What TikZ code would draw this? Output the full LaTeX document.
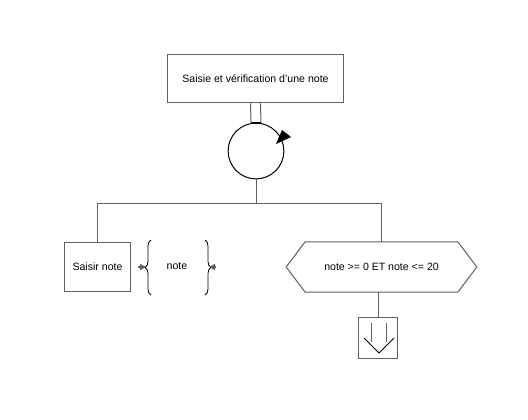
\documentclass[tikz,border=0pt]{standalone}
\usepackage{fontspec}
\setmainfont{Liberation Sans}
\usetikzlibrary{arrows.meta,decorations.pathreplacing}
\definecolor{edge}{HTML}{606060}
\tikzset{label/.style={font=\fontsize{10.6}{12}\selectfont}}
\tikzset{box/.style={draw=edge, line width=1bp, fill=white, inner sep=0pt, label}}
\tikzset{link/.style={draw=edge, line width=1bp}}
\tikzset{flow/.style={-{Triangle[length=6bp,width=6bp]}, draw=edge, fill=edge, line width=2bp}}
\tikzset{curly/.style={decorate, decoration={brace, amplitude=6bp, aspect=0.5}, draw=black, line width=0.8bp}}

\begin{document}
\begin{tikzpicture}[x=1bp, y=1bp]
      \useasboundingbox[fill=white] (0, 0) rectangle (528, 419);

      \node[box, minimum width=177, minimum height=49] (task) at (255.5, 340.5) {Saisie et vérification d'une note};
      \node[draw=black, line width=1bp, circle, minimum size=56, inner sep=0pt] (loop) at (256, 268) {};
      \coordinate (split) at (256, 216);
      \node[box, minimum width=67, minimum height=50] (input) at (97.5, 152) {Saisir note};
      \node[label] (data) at (177, 153) {note};
      \node[minimum width=153, minimum height=50, inner sep=0pt, label] (cond) at (381.5, 152) {note >= 0 ET note <= 20};
      \node[box, minimum width=40, minimum height=42] (exit) at (378, 81) {};

      \draw[link] ([xshift=-5]task.south) -- ([xshift=-5]loop.north);
      \draw[link] ([xshift=5]task.south) -- ([xshift=5]loop.north);
      \draw[line width=2bp] ([xshift=-5]loop.north) -- ([xshift=5]loop.north);
      \fill (291, 282) -- (282, 289) -- (276, 275) -- cycle;

      \draw[link] (loop.south) -- (split);
      \draw[link] (split) -| (input.north);
      \draw[link] (split) -| (cond.north);

      \draw[link] (cond.north west) -- (cond.north east) -- ([xshift=19]cond.east)
        -- (cond.south east) -- (cond.south west) -- ([xshift=-19]cond.west) -- cycle;
      \draw[link] (exit.north) -- (exit.north |- cond.south);

      \draw[curly] (151, 124) -- (151, 179);
      \draw[curly] (205, 179) -- (205, 124);
      \draw[flow] (138, 152) -- (146, 152);
      \draw[flow] (216, 152) -- (209, 152);

      \draw[link] (371, 96) -- (371, 77);
      \draw[link] (386, 96) -- (386, 77);
      \draw[draw=black, line width=1bp] (364, 81) -- (379, 66) -- (394, 81);
    \end{tikzpicture}
\end{document}
